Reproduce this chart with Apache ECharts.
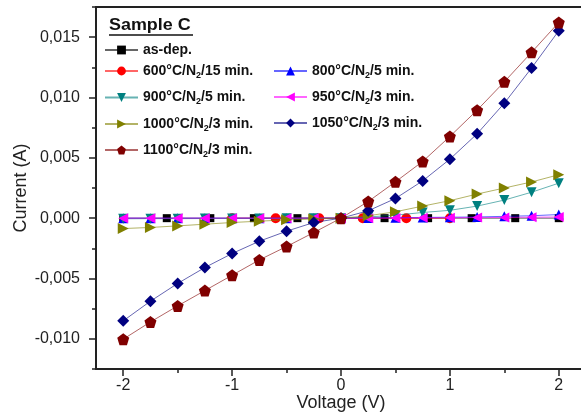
<!DOCTYPE html>
<html><head><meta charset="utf-8">
<script src="https://cdn.jsdelivr.net/npm/echarts@6/dist/echarts.min.js"></script>
<style>html,body{margin:0;padding:0;background:#fff}#c{width:581px;height:417px}</style>
</head><body><div id="c"></div>
<script>
// ---- data ----
const voltageFine = [-2,-1.75,-1.5,-1.25,-1,-0.75,-0.5,-0.25,0,0.25,0.5,0.75,1,1.25,1.5,1.75,2];
const voltageAsDep = [-2,-1.6,-1.2,-0.8,-0.4,0,0.4,0.8,1.2,1.6,2];
const voltage600 = [-1,-0.6,-0.2,0.2,0.6,1];

const currentAsDep = [0,0,0,0,0,0,0,0,0,0,0];
const current600 = [0,0,0,0,0,0];
const current800 = [0,0,0,0,0,0,0,0,0,0.00002,0.00004,0.00006,0.00008,0.0001,0.00015,0.0002,0.0003];
const current900 = [-0.00005,-0.00004,-0.00004,-0.00003,-0.00003,-0.00002,-0.00001,0,0,0.0001,0.00025,0.00047,0.00065,0.001,0.0015,0.00215,0.0029];
const current950 = [0,0,0,0,0,0,0,0,0,0,0.00002,0.00003,0.00004,0.00005,0.00006,0.00008,0.0001];
const current1000 = [-0.00086,-0.00077,-0.00064,-0.0005,-0.00036,-0.00025,-0.00014,-0.00007,0,0.0002,0.00053,0.001,0.00145,0.002,0.0025,0.003,0.0036];
const current1050 = [-0.00851,-0.00688,-0.00541,-0.00409,-0.00293,-0.00191,-0.00108,-0.00036,0,0.00061,0.00163,0.00309,0.00489,0.00699,0.00953,0.01244,0.01553];
const current1100 = [-0.01003,-0.0086,-0.00727,-0.006,-0.00473,-0.00346,-0.00235,-0.00119,0,0.00138,0.00301,0.0047,0.00677,0.00895,0.0113,0.01374,0.01622];

const seriesNames = ['as-dep.','600°C/N2/15 min.','800°C/N2/5 min.','900°C/N2/5 min.','950°C/N2/3 min.','1000°C/N2/3 min.','1050°C/N2/3 min.','1100°C/N2/3 min.'];
const xMajorTicks = [-2,-1,0,1,2];
const xMinorTicks = [-1.5,-0.5,0.5,1.5];
const yMajorTicks = [-0.01,-0.005,0,0.005,0.01,0.015];
const yMinorTicks = [-0.0125,-0.0075,-0.0025,0.0025,0.0075,0.0125,0.0175];

// ---- styling ----
const FONT = 'Liberation Sans, Arial, sans-serif';
const pentagon = 'path://M50,0 L97.6,34.5 L79.4,90.5 L20.6,90.5 L2.4,34.5 Z';
const triDown = 'path://M0,0 L10,0 L5,9 Z';
const triLeft = 'path://M10,0 L10,10 L1,5 Z';
const triRight = 'path://M0,0 L9,5 L0,10 Z';

const defs = [
  {x: voltageAsDep, y: currentAsDep, color:'#000000', symbol:'rect', size:8},
  {x: voltage600, y: current600, color:'#ff0000', symbol:'circle', size:10},
  {x: voltageFine, y: current800, color:'#0000ff', symbol:'triangle', size:10},
  {x: voltageFine, y: current900, color:'#008080', symbol:triDown, size:10},
  {x: voltageFine, y: current950, color:'#ff00ff', symbol:triLeft, size:10},
  {x: voltageFine, y: current1000, color:'#808000', symbol:triRight, size:11},
  {x: voltageFine, y: current1050, color:'#000080', symbol:'diamond', size:12},
  {x: voltageFine, y: current1100, color:'#800000', symbol:pentagon, size:12}
];

const series = defs.map((d, k) => ({
  name: seriesNames[k],
  type: 'line',
  xAxisIndex: 0, yAxisIndex: 0,
  data: d.x.map((v, i) => [v, d.y[i]]),
  symbol: d.symbol,
  symbolSize: d.size,
  showAllSymbol: true,
  itemStyle: {color: d.color},
  lineStyle: {color: d.color, width: 1, opacity: 0.6},
  emphasis: {disabled: true},
  animation: false,
  z: 2 + k
}));

const legendPos = [
  [104, 50],[104, 71],[273, 71],[104, 97.5],[273, 97],[104, 124],[273, 123],[104, 150]
];
const legends = seriesNames.map((n, k) => ({
  data: [n],
  left: legendPos[k][0],
  top: legendPos[k][1] - 9,
  padding: 0,
  itemWidth: 33,
  itemHeight: 11,
  selectedMode: false,
  formatter: name => name.replace('N2', 'N{sub|2}'),
  textStyle: {
    fontFamily: FONT, fontWeight: 'bold', fontSize: 14, color: '#111', lineHeight: 18,
    rich: {
      sub: {fontFamily: FONT, fontWeight: 'bold', fontSize: 9, color: '#111', verticalAlign: 'bottom', lineHeight: 12}
    }
  }
}));

const axisLineStyle = {color: '#222', width: 2};
const fmtY = v => v.toFixed(3).replace('.', ',');

const option = {
  backgroundColor: '#ffffff',
  animation: false,
  grid: {left: 96, right: -5, top: 7, bottom: 48, containLabel: false, outerBoundsMode: 'none'},
  legend: legends,
  xAxis: [
    {type:'value', position:'bottom', min:-2.25, max:2.25,
     name:'Voltage (V)', nameLocation:'middle', nameGap: 25, nameMoveOverlap: false,
     nameTextStyle:{fontFamily:FONT, fontSize:18, color:'#222'},
     axisLine:{show:true, onZero:false, lineStyle:axisLineStyle},
     axisTick:{show:true, inside:false, length:7, customValues:xMajorTicks, lineStyle:{color:'#222', width:1.5}},
     axisLabel:{show:true, margin:9, customValues:xMajorTicks, fontFamily:FONT, fontSize:16, color:'#222', formatter: v => String(v)},
     splitLine:{show:false}},
    {type:'value', position:'bottom', min:-2.25, max:2.25,
     axisLine:{show:false, onZero:false},
     axisTick:{show:true, inside:false, length:4, customValues:xMinorTicks, lineStyle:{color:'#222', width:1.5}},
     axisLabel:{show:false}, splitLine:{show:false}},
    {type:'value', position:'top', min:-2.25, max:2.25,
     axisLine:{show:true, onZero:false, lineStyle:axisLineStyle},
     axisTick:{show:false}, axisLabel:{show:false}, splitLine:{show:false}}
  ],
  yAxis: [
    {type:'value', position:'left', min:-0.0125, max:0.0175,
     name:'Current (A)', nameLocation:'middle', nameGap: 66, nameRotate: 90, nameMoveOverlap: false,
     nameTextStyle:{fontFamily:FONT, fontSize:18, color:'#222'},
     axisLine:{show:true, onZero:false, lineStyle:axisLineStyle},
     axisTick:{show:true, inside:false, length:7, customValues:yMajorTicks, lineStyle:{color:'#222', width:1.5}},
     axisLabel:{show:true, margin:16, customValues:yMajorTicks, fontFamily:FONT, fontSize:16, color:'#222', formatter: fmtY},
     splitLine:{show:false}},
    {type:'value', position:'left', min:-0.0125, max:0.0175,
     axisLine:{show:false, onZero:false},
     axisTick:{show:true, inside:false, length:4, customValues:yMinorTicks, lineStyle:{color:'#222', width:1.5}},
     axisLabel:{show:false}, splitLine:{show:false}}
  ],
  graphic: [
    {type:'text', left: 109, top: 18, scaleX: 1.12,
     style:{text:'Sample C', fontFamily:FONT, fontWeight:'bold', fontSize:16, fill:'#111'}},
    {type:'line', shape:{x1:109, y1:35, x2:193, y2:35}, style:{stroke:'#111', lineWidth:1.5}}
  ],
  series: series
};

const chart = echarts.init(document.getElementById('c'), null, {renderer:'canvas'});
chart.setOption(option);
</script>
</body></html>
